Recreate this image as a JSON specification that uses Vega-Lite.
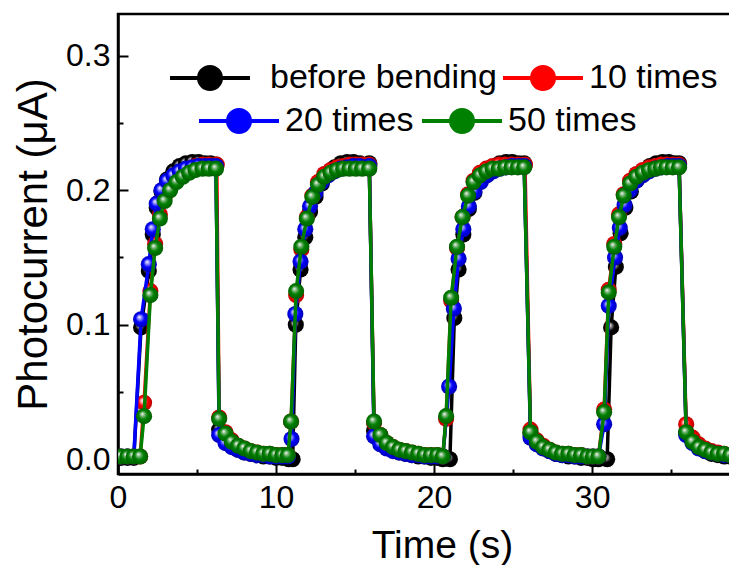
{
  "$schema": "https://vega.github.io/schema/vega-lite/v6.json",
  "width": 648,
  "height": 460,
  "padding": {"left": 12, "top": 14, "right": 0, "bottom": 0},
  "config": {
    "view": {"stroke": "black", "strokeWidth": 2.5},
    "axis": {"grid": false, "domainColor": "black", "domainWidth": 2.5, "tickColor": "black", "tickWidth": 2, "labelColor": "black", "titleColor": "black", "labelFont": "Liberation Sans", "titleFont": "Liberation Sans", "titleFontWeight": "normal", "labelFontSize": 32, "titleFontSize": 39},
    "legend": {"labelFont": "Liberation Sans", "labelColor": "black", "labelLimit": 0}
  },
  "data": {"values": [
    {"s":"before bending","t":0.2,"y":0.001},{"s":"before bending","t":0.6,"y":0.001},{"s":"before bending","t":1.0,"y":0.001},
    {"s":"before bending","t":1.46,"y":0.098},{"s":"before bending","t":1.95,"y":0.140},{"s":"before bending","t":2.2,"y":0.167},{"s":"before bending","t":2.45,"y":0.187},{"s":"before bending","t":2.75,"y":0.199},{"s":"before bending","t":3.1,"y":0.208},{"s":"before bending","t":3.5,"y":0.214},{"s":"before bending","t":3.9,"y":0.218},{"s":"before bending","t":4.3,"y":0.220},{"s":"before bending","t":4.7,"y":0.221},{"s":"before bending","t":5.1,"y":0.221},{"s":"before bending","t":5.5,"y":0.220},{"s":"before bending","t":5.85,"y":0.220},{"s":"before bending","t":6.2,"y":0.219},
    {"s":"before bending","t":6.4,"y":0.022},{"s":"before bending","t":6.8,"y":0.014},{"s":"before bending","t":7.2,"y":0.010},{"s":"before bending","t":7.6,"y":0.007},{"s":"before bending","t":8.0,"y":0.005},{"s":"before bending","t":8.4,"y":0.004},{"s":"before bending","t":8.8,"y":0.003},{"s":"before bending","t":9.2,"y":0.002},{"s":"before bending","t":9.6,"y":0.002},{"s":"before bending","t":10.0,"y":0.001},{"s":"before bending","t":10.4,"y":0.001},{"s":"before bending","t":10.8,"y":0.000},{"s":"before bending","t":11.05,"y":0.000},
    {"s":"before bending","t":11.25,"y":0.100},{"s":"before bending","t":11.55,"y":0.141},{"s":"before bending","t":11.85,"y":0.165},{"s":"before bending","t":12.15,"y":0.184},{"s":"before bending","t":12.5,"y":0.195},{"s":"before bending","t":12.9,"y":0.205},{"s":"before bending","t":13.3,"y":0.212},{"s":"before bending","t":13.7,"y":0.217},{"s":"before bending","t":14.1,"y":0.220},{"s":"before bending","t":14.5,"y":0.221},{"s":"before bending","t":14.9,"y":0.221},{"s":"before bending","t":15.3,"y":0.220},{"s":"before bending","t":15.9,"y":0.220},
    {"s":"before bending","t":16.2,"y":0.021},{"s":"before bending","t":16.6,"y":0.013},{"s":"before bending","t":17.0,"y":0.009},{"s":"before bending","t":17.4,"y":0.007},{"s":"before bending","t":17.8,"y":0.005},{"s":"before bending","t":18.2,"y":0.004},{"s":"before bending","t":18.6,"y":0.003},{"s":"before bending","t":19.0,"y":0.002},{"s":"before bending","t":19.4,"y":0.002},{"s":"before bending","t":19.8,"y":0.001},{"s":"before bending","t":20.2,"y":0.001},{"s":"before bending","t":20.55,"y":0.000},{"s":"before bending","t":21.0,"y":0.000},
    {"s":"before bending","t":21.28,"y":0.105},{"s":"before bending","t":21.55,"y":0.141},{"s":"before bending","t":21.85,"y":0.167},{"s":"before bending","t":22.2,"y":0.186},{"s":"before bending","t":22.55,"y":0.198},{"s":"before bending","t":22.95,"y":0.207},{"s":"before bending","t":23.35,"y":0.213},{"s":"before bending","t":23.75,"y":0.217},{"s":"before bending","t":24.15,"y":0.220},{"s":"before bending","t":24.55,"y":0.221},{"s":"before bending","t":24.95,"y":0.221},{"s":"before bending","t":25.35,"y":0.220},{"s":"before bending","t":25.7,"y":0.220},
    {"s":"before bending","t":26.1,"y":0.019},{"s":"before bending","t":26.5,"y":0.012},{"s":"before bending","t":26.9,"y":0.009},{"s":"before bending","t":27.3,"y":0.006},{"s":"before bending","t":27.7,"y":0.004},{"s":"before bending","t":28.1,"y":0.003},{"s":"before bending","t":28.5,"y":0.002},{"s":"before bending","t":28.9,"y":0.002},{"s":"before bending","t":29.3,"y":0.001},{"s":"before bending","t":29.7,"y":0.001},{"s":"before bending","t":30.05,"y":0.000},{"s":"before bending","t":30.4,"y":0.000},{"s":"before bending","t":30.95,"y":0.000},
    {"s":"before bending","t":31.2,"y":0.098},{"s":"before bending","t":31.5,"y":0.143},{"s":"before bending","t":31.8,"y":0.168},{"s":"before bending","t":32.1,"y":0.187},{"s":"before bending","t":32.45,"y":0.199},{"s":"before bending","t":32.85,"y":0.208},{"s":"before bending","t":33.25,"y":0.214},{"s":"before bending","t":33.65,"y":0.218},{"s":"before bending","t":34.05,"y":0.220},{"s":"before bending","t":34.45,"y":0.221},{"s":"before bending","t":34.85,"y":0.221},{"s":"before bending","t":35.2,"y":0.220},{"s":"before bending","t":35.5,"y":0.220},
    {"s":"before bending","t":35.95,"y":0.020},{"s":"before bending","t":36.35,"y":0.013},{"s":"before bending","t":36.75,"y":0.009},{"s":"before bending","t":37.15,"y":0.006},{"s":"before bending","t":37.55,"y":0.004},{"s":"before bending","t":37.95,"y":0.003},{"s":"before bending","t":38.35,"y":0.002},{"s":"before bending","t":38.75,"y":0.002},{"s":"before bending","t":39.15,"y":0.001},

    {"s":"10 times","t":0.2,"y":0.002},{"s":"10 times","t":0.6,"y":0.002},{"s":"10 times","t":1.0,"y":0.002},{"s":"10 times","t":1.4,"y":0.002},
    {"s":"10 times","t":1.65,"y":0.042},{"s":"10 times","t":2.05,"y":0.125},{"s":"10 times","t":2.35,"y":0.160},{"s":"10 times","t":2.65,"y":0.182},{"s":"10 times","t":2.95,"y":0.195},{"s":"10 times","t":3.3,"y":0.203},{"s":"10 times","t":3.7,"y":0.209},{"s":"10 times","t":4.1,"y":0.213},{"s":"10 times","t":4.5,"y":0.216},{"s":"10 times","t":4.9,"y":0.218},{"s":"10 times","t":5.35,"y":0.219},{"s":"10 times","t":5.75,"y":0.219},{"s":"10 times","t":6.25,"y":0.219},
    {"s":"10 times","t":6.4,"y":0.031},{"s":"10 times","t":6.8,"y":0.020},{"s":"10 times","t":7.2,"y":0.014},{"s":"10 times","t":7.6,"y":0.010},{"s":"10 times","t":8.0,"y":0.008},{"s":"10 times","t":8.4,"y":0.006},{"s":"10 times","t":8.8,"y":0.005},{"s":"10 times","t":9.2,"y":0.004},{"s":"10 times","t":9.6,"y":0.004},{"s":"10 times","t":10.0,"y":0.003},{"s":"10 times","t":10.4,"y":0.003},{"s":"10 times","t":10.75,"y":0.003},
    {"s":"10 times","t":10.95,"y":0.028},{"s":"10 times","t":11.27,"y":0.122},{"s":"10 times","t":11.6,"y":0.156},{"s":"10 times","t":11.95,"y":0.180},{"s":"10 times","t":12.3,"y":0.196},{"s":"10 times","t":12.65,"y":0.206},{"s":"10 times","t":13.05,"y":0.212},{"s":"10 times","t":13.45,"y":0.215},{"s":"10 times","t":13.85,"y":0.217},{"s":"10 times","t":14.25,"y":0.218},{"s":"10 times","t":14.65,"y":0.219},{"s":"10 times","t":15.05,"y":0.219},{"s":"10 times","t":15.45,"y":0.219},{"s":"10 times","t":15.9,"y":0.219},
    {"s":"10 times","t":16.2,"y":0.027},{"s":"10 times","t":16.6,"y":0.018},{"s":"10 times","t":17.0,"y":0.012},{"s":"10 times","t":17.4,"y":0.009},{"s":"10 times","t":17.8,"y":0.007},{"s":"10 times","t":18.2,"y":0.006},{"s":"10 times","t":18.6,"y":0.005},{"s":"10 times","t":19.0,"y":0.004},{"s":"10 times","t":19.4,"y":0.003},{"s":"10 times","t":19.8,"y":0.003},{"s":"10 times","t":20.2,"y":0.003},{"s":"10 times","t":20.55,"y":0.002},
    {"s":"10 times","t":20.76,"y":0.030},{"s":"10 times","t":21.08,"y":0.118},{"s":"10 times","t":21.45,"y":0.157},{"s":"10 times","t":21.8,"y":0.180},{"s":"10 times","t":22.15,"y":0.197},{"s":"10 times","t":22.5,"y":0.207},{"s":"10 times","t":22.9,"y":0.213},{"s":"10 times","t":23.3,"y":0.216},{"s":"10 times","t":23.7,"y":0.218},{"s":"10 times","t":24.1,"y":0.219},{"s":"10 times","t":24.5,"y":0.219},{"s":"10 times","t":24.9,"y":0.219},{"s":"10 times","t":25.3,"y":0.219},{"s":"10 times","t":25.75,"y":0.219},
    {"s":"10 times","t":26.1,"y":0.022},{"s":"10 times","t":26.5,"y":0.014},{"s":"10 times","t":26.9,"y":0.010},{"s":"10 times","t":27.3,"y":0.007},{"s":"10 times","t":27.7,"y":0.005},{"s":"10 times","t":28.1,"y":0.004},{"s":"10 times","t":28.5,"y":0.004},{"s":"10 times","t":28.9,"y":0.003},{"s":"10 times","t":29.3,"y":0.003},{"s":"10 times","t":29.7,"y":0.002},{"s":"10 times","t":30.05,"y":0.002},{"s":"10 times","t":30.4,"y":0.002},
    {"s":"10 times","t":30.76,"y":0.037},{"s":"10 times","t":31.05,"y":0.126},{"s":"10 times","t":31.4,"y":0.160},{"s":"10 times","t":31.7,"y":0.182},{"s":"10 times","t":32.0,"y":0.197},{"s":"10 times","t":32.4,"y":0.207},{"s":"10 times","t":32.8,"y":0.212},{"s":"10 times","t":33.2,"y":0.215},{"s":"10 times","t":33.6,"y":0.217},{"s":"10 times","t":34.0,"y":0.218},{"s":"10 times","t":34.35,"y":0.219},{"s":"10 times","t":34.7,"y":0.219},{"s":"10 times","t":35.1,"y":0.219},{"s":"10 times","t":35.5,"y":0.219},
    {"s":"10 times","t":35.95,"y":0.026},{"s":"10 times","t":36.35,"y":0.016},{"s":"10 times","t":36.75,"y":0.011},{"s":"10 times","t":37.15,"y":0.008},{"s":"10 times","t":37.55,"y":0.006},{"s":"10 times","t":37.95,"y":0.005},{"s":"10 times","t":38.35,"y":0.004},{"s":"10 times","t":38.75,"y":0.003},{"s":"10 times","t":39.15,"y":0.003},

    {"s":"20 times","t":0.2,"y":0.002},{"s":"20 times","t":0.6,"y":0.002},{"s":"20 times","t":1.0,"y":0.002},
    {"s":"20 times","t":1.46,"y":0.104},{"s":"20 times","t":1.95,"y":0.145},{"s":"20 times","t":2.2,"y":0.171},{"s":"20 times","t":2.45,"y":0.190},{"s":"20 times","t":2.75,"y":0.200},{"s":"20 times","t":3.1,"y":0.207},{"s":"20 times","t":3.5,"y":0.211},{"s":"20 times","t":3.9,"y":0.214},{"s":"20 times","t":4.3,"y":0.216},{"s":"20 times","t":4.7,"y":0.217},{"s":"20 times","t":5.1,"y":0.218},{"s":"20 times","t":5.5,"y":0.218},{"s":"20 times","t":5.85,"y":0.218},{"s":"20 times","t":6.2,"y":0.218},
    {"s":"20 times","t":6.4,"y":0.018},{"s":"20 times","t":6.8,"y":0.012},{"s":"20 times","t":7.2,"y":0.009},{"s":"20 times","t":7.6,"y":0.007},{"s":"20 times","t":8.0,"y":0.005},{"s":"20 times","t":8.4,"y":0.004},{"s":"20 times","t":8.8,"y":0.003},{"s":"20 times","t":9.2,"y":0.003},{"s":"20 times","t":9.6,"y":0.002},{"s":"20 times","t":10.0,"y":0.002},{"s":"20 times","t":10.4,"y":0.002},{"s":"20 times","t":10.75,"y":0.002},
    {"s":"20 times","t":10.98,"y":0.015},{"s":"20 times","t":11.22,"y":0.108},{"s":"20 times","t":11.55,"y":0.147},{"s":"20 times","t":11.85,"y":0.171},{"s":"20 times","t":12.15,"y":0.188},{"s":"20 times","t":12.5,"y":0.198},{"s":"20 times","t":12.9,"y":0.206},{"s":"20 times","t":13.3,"y":0.211},{"s":"20 times","t":13.7,"y":0.214},{"s":"20 times","t":14.1,"y":0.216},{"s":"20 times","t":14.5,"y":0.217},{"s":"20 times","t":14.9,"y":0.218},{"s":"20 times","t":15.3,"y":0.218},{"s":"20 times","t":15.9,"y":0.218},
    {"s":"20 times","t":16.2,"y":0.017},{"s":"20 times","t":16.6,"y":0.011},{"s":"20 times","t":17.0,"y":0.008},{"s":"20 times","t":17.4,"y":0.006},{"s":"20 times","t":17.8,"y":0.005},{"s":"20 times","t":18.2,"y":0.004},{"s":"20 times","t":18.6,"y":0.003},{"s":"20 times","t":19.0,"y":0.003},{"s":"20 times","t":19.4,"y":0.002},{"s":"20 times","t":19.8,"y":0.002},{"s":"20 times","t":20.2,"y":0.002},{"s":"20 times","t":20.55,"y":0.002},
    {"s":"20 times","t":20.95,"y":0.054},{"s":"20 times","t":21.25,"y":0.112},{"s":"20 times","t":21.55,"y":0.149},{"s":"20 times","t":21.85,"y":0.171},{"s":"20 times","t":22.2,"y":0.188},{"s":"20 times","t":22.55,"y":0.199},{"s":"20 times","t":22.95,"y":0.206},{"s":"20 times","t":23.35,"y":0.211},{"s":"20 times","t":23.75,"y":0.214},{"s":"20 times","t":24.15,"y":0.216},{"s":"20 times","t":24.55,"y":0.217},{"s":"20 times","t":24.95,"y":0.218},{"s":"20 times","t":25.35,"y":0.218},{"s":"20 times","t":25.7,"y":0.218},
    {"s":"20 times","t":26.1,"y":0.016},{"s":"20 times","t":26.5,"y":0.011},{"s":"20 times","t":26.9,"y":0.008},{"s":"20 times","t":27.3,"y":0.006},{"s":"20 times","t":27.7,"y":0.004},{"s":"20 times","t":28.1,"y":0.003},{"s":"20 times","t":28.5,"y":0.003},{"s":"20 times","t":28.9,"y":0.002},{"s":"20 times","t":29.3,"y":0.002},{"s":"20 times","t":29.7,"y":0.002},{"s":"20 times","t":30.05,"y":0.002},{"s":"20 times","t":30.4,"y":0.002},
    {"s":"20 times","t":30.76,"y":0.026},{"s":"20 times","t":31.05,"y":0.114},{"s":"20 times","t":31.45,"y":0.150},{"s":"20 times","t":31.75,"y":0.172},{"s":"20 times","t":32.05,"y":0.189},{"s":"20 times","t":32.4,"y":0.200},{"s":"20 times","t":32.8,"y":0.207},{"s":"20 times","t":33.2,"y":0.211},{"s":"20 times","t":33.6,"y":0.214},{"s":"20 times","t":34.0,"y":0.216},{"s":"20 times","t":34.4,"y":0.217},{"s":"20 times","t":34.8,"y":0.218},{"s":"20 times","t":35.15,"y":0.218},{"s":"20 times","t":35.5,"y":0.218},
    {"s":"20 times","t":35.95,"y":0.018},{"s":"20 times","t":36.35,"y":0.012},{"s":"20 times","t":36.75,"y":0.008},{"s":"20 times","t":37.15,"y":0.006},{"s":"20 times","t":37.55,"y":0.005},{"s":"20 times","t":37.95,"y":0.004},{"s":"20 times","t":38.35,"y":0.003},{"s":"20 times","t":38.75,"y":0.003},{"s":"20 times","t":39.15,"y":0.002},

    {"s":"50 times","t":0.2,"y":0.002},{"s":"50 times","t":0.6,"y":0.002},{"s":"50 times","t":1.0,"y":0.002},{"s":"50 times","t":1.4,"y":0.002},
    {"s":"50 times","t":1.65,"y":0.032},{"s":"50 times","t":2.05,"y":0.122},{"s":"50 times","t":2.35,"y":0.157},{"s":"50 times","t":2.65,"y":0.179},{"s":"50 times","t":2.95,"y":0.192},{"s":"50 times","t":3.3,"y":0.200},{"s":"50 times","t":3.7,"y":0.206},{"s":"50 times","t":4.1,"y":0.210},{"s":"50 times","t":4.5,"y":0.213},{"s":"50 times","t":4.9,"y":0.215},{"s":"50 times","t":5.35,"y":0.216},{"s":"50 times","t":5.75,"y":0.216},{"s":"50 times","t":6.2,"y":0.216},
    {"s":"50 times","t":6.4,"y":0.030},{"s":"50 times","t":6.8,"y":0.019},{"s":"50 times","t":7.2,"y":0.013},{"s":"50 times","t":7.6,"y":0.010},{"s":"50 times","t":8.0,"y":0.008},{"s":"50 times","t":8.4,"y":0.006},{"s":"50 times","t":8.8,"y":0.005},{"s":"50 times","t":9.2,"y":0.004},{"s":"50 times","t":9.6,"y":0.004},{"s":"50 times","t":10.0,"y":0.003},{"s":"50 times","t":10.4,"y":0.003},{"s":"50 times","t":10.75,"y":0.003},
    {"s":"50 times","t":10.95,"y":0.028},{"s":"50 times","t":11.27,"y":0.125},{"s":"50 times","t":11.6,"y":0.158},{"s":"50 times","t":11.95,"y":0.179},{"s":"50 times","t":12.3,"y":0.195},{"s":"50 times","t":12.65,"y":0.204},{"s":"50 times","t":13.05,"y":0.210},{"s":"50 times","t":13.45,"y":0.213},{"s":"50 times","t":13.85,"y":0.215},{"s":"50 times","t":14.25,"y":0.216},{"s":"50 times","t":14.65,"y":0.216},{"s":"50 times","t":15.05,"y":0.216},{"s":"50 times","t":15.45,"y":0.216},{"s":"50 times","t":15.9,"y":0.216},
    {"s":"50 times","t":16.2,"y":0.028},{"s":"50 times","t":16.6,"y":0.018},{"s":"50 times","t":17.0,"y":0.012},{"s":"50 times","t":17.4,"y":0.009},{"s":"50 times","t":17.8,"y":0.007},{"s":"50 times","t":18.2,"y":0.006},{"s":"50 times","t":18.6,"y":0.005},{"s":"50 times","t":19.0,"y":0.004},{"s":"50 times","t":19.4,"y":0.003},{"s":"50 times","t":19.8,"y":0.003},{"s":"50 times","t":20.2,"y":0.003},{"s":"50 times","t":20.55,"y":0.002},
    {"s":"50 times","t":20.76,"y":0.032},{"s":"50 times","t":21.08,"y":0.120},{"s":"50 times","t":21.45,"y":0.158},{"s":"50 times","t":21.8,"y":0.180},{"s":"50 times","t":22.15,"y":0.196},{"s":"50 times","t":22.5,"y":0.206},{"s":"50 times","t":22.9,"y":0.211},{"s":"50 times","t":23.3,"y":0.214},{"s":"50 times","t":23.7,"y":0.216},{"s":"50 times","t":24.1,"y":0.216},{"s":"50 times","t":24.5,"y":0.217},{"s":"50 times","t":24.9,"y":0.217},{"s":"50 times","t":25.3,"y":0.217},{"s":"50 times","t":25.7,"y":0.217},
    {"s":"50 times","t":26.1,"y":0.020},{"s":"50 times","t":26.5,"y":0.013},{"s":"50 times","t":26.9,"y":0.009},{"s":"50 times","t":27.3,"y":0.007},{"s":"50 times","t":27.7,"y":0.005},{"s":"50 times","t":28.1,"y":0.004},{"s":"50 times","t":28.5,"y":0.004},{"s":"50 times","t":28.9,"y":0.003},{"s":"50 times","t":29.3,"y":0.003},{"s":"50 times","t":29.7,"y":0.002},{"s":"50 times","t":30.05,"y":0.002},{"s":"50 times","t":30.4,"y":0.002},
    {"s":"50 times","t":30.76,"y":0.035},{"s":"50 times","t":31.05,"y":0.124},{"s":"50 times","t":31.4,"y":0.158},{"s":"50 times","t":31.7,"y":0.180},{"s":"50 times","t":32.0,"y":0.196},{"s":"50 times","t":32.4,"y":0.205},{"s":"50 times","t":32.8,"y":0.210},{"s":"50 times","t":33.2,"y":0.213},{"s":"50 times","t":33.6,"y":0.215},{"s":"50 times","t":34.0,"y":0.216},{"s":"50 times","t":34.35,"y":0.217},{"s":"50 times","t":34.7,"y":0.217},{"s":"50 times","t":35.1,"y":0.217},{"s":"50 times","t":35.5,"y":0.217},
    {"s":"50 times","t":35.95,"y":0.020},{"s":"50 times","t":36.35,"y":0.013},{"s":"50 times","t":36.75,"y":0.009},{"s":"50 times","t":37.15,"y":0.007},{"s":"50 times","t":37.55,"y":0.005},{"s":"50 times","t":37.95,"y":0.004},{"s":"50 times","t":38.35,"y":0.004},{"s":"50 times","t":38.75,"y":0.003},{"s":"50 times","t":39.15,"y":0.003}
  ]},
  "encoding": {
    "x": {"field": "t", "type": "quantitative", "scale": {"domain": [0, 41], "nice": false, "zero": false},
      "axis": {"title": "Time (s)", "values": [0, 5, 10, 15, 20, 25, 30, 35], "labelExpr": "datum.value % 10 === 0 ? format(datum.value, 'd') : ''", "tickSize": {"condition": {"test": "datum.value % 10 === 0", "value": -10}, "value": -5}, "labelPadding": 18, "titlePadding": 8, "labelOverlap": false, "labelFlush": false}},
    "y": {"field": "y", "type": "quantitative", "scale": {"domain": [-0.011, 0.331], "nice": false, "zero": false},
      "axis": {"title": "Photocurrent (μA)", "values": [0, 0.05, 0.1, 0.15, 0.2, 0.25, 0.3], "labelExpr": "round(datum.value*100) % 10 === 0 ? format(datum.value, '.1f') : ''", "tickSize": {"condition": {"test": "round(datum.value*100) % 10 === 0", "value": -10}, "value": -5}, "labelPadding": 18, "titlePadding": 10, "titleFontSize": 42, "labelOverlap": false}}
  },
  "layer": [
    {"transform": [{"filter": "datum.s === 'before bending'"}], "mark": {"type": "line", "strokeWidth": 3.5, "clip": true},
      "encoding": {"color": {"field": "s", "type": "nominal", "scale": {"domain": ["before bending", "10 times"], "range": ["#000000", "#ff0000"]},
        "legend": {"title": null, "orient": "none", "legendX": 50, "legendY": 22, "direction": "horizontal", "columns": 2, "symbolType": "M-1,0L1,0M0.275,0A0.275,0.275,0,1,1,-0.275,0A0.275,0.275,0,1,1,0.275,0Z", "symbolSize": 6400, "symbolStrokeWidth": 4, "labelFontSize": 34, "labelOffset": 4, "columnPadding": -2, "labelLimit": 0, "encode": {"symbols": {"update": {"fill": {"scale": "color", "field": "value"}, "stroke": {"scale": "color", "field": "value"}, "opacity": {"value": 1}}}, "labels": {"update": {"dx": {"signal": "datum.value === 'before bending' ? 14 : 0"}}}}}}}},
    {"transform": [{"filter": "datum.s === 'before bending'"}], "mark": {"type": "circle", "size": 260, "opacity": 1, "clip": true, "fill": {"gradient": "radial", "x1": 0.38, "y1": 0.35, "r1": 0, "x2": 0.5, "y2": 0.5, "r2": 0.55, "stops": [{"offset": 0, "color": "#ffffff"}, {"offset": 0.25, "color": "#8a8a8a"}, {"offset": 0.5, "color": "#000000"}, {"offset": 1, "color": "#000000"}]}}},
    {"transform": [{"filter": "datum.s === '10 times'"}], "mark": {"type": "line", "strokeWidth": 3.5, "clip": true},
      "encoding": {"color": {"field": "s", "type": "nominal", "scale": {"domain": ["before bending", "10 times"], "range": ["#000000", "#ff0000"]},
        "legend": {"title": null, "orient": "none", "legendX": 50, "legendY": 22, "direction": "horizontal", "columns": 2, "symbolType": "M-1,0L1,0M0.275,0A0.275,0.275,0,1,1,-0.275,0A0.275,0.275,0,1,1,0.275,0Z", "symbolSize": 6400, "symbolStrokeWidth": 4, "labelFontSize": 34, "labelOffset": 4, "columnPadding": -2, "labelLimit": 0, "encode": {"symbols": {"update": {"fill": {"scale": "color", "field": "value"}, "stroke": {"scale": "color", "field": "value"}, "opacity": {"value": 1}}}, "labels": {"update": {"dx": {"signal": "datum.value === 'before bending' ? 14 : 0"}}}}}}}},
    {"transform": [{"filter": "datum.s === '10 times'"}], "mark": {"type": "circle", "size": 260, "opacity": 1, "clip": true, "fill": {"gradient": "radial", "x1": 0.38, "y1": 0.35, "r1": 0, "x2": 0.5, "y2": 0.5, "r2": 0.55, "stops": [{"offset": 0, "color": "#ffffff"}, {"offset": 0.25, "color": "#ff9090"}, {"offset": 0.5, "color": "#ff0000"}, {"offset": 1, "color": "#b00000"}]}}},
    {"transform": [{"filter": "datum.s === '20 times'"}], "mark": {"type": "line", "strokeWidth": 3.5, "clip": true},
      "encoding": {"stroke": {"field": "s", "type": "nominal", "scale": {"domain": ["20 times", "50 times"], "range": ["#0000ff", "#008000"]},
        "legend": {"title": null, "orient": "none", "legendX": 79, "legendY": 65, "direction": "horizontal", "columns": 2, "symbolType": "M-1,0L1,0M0.275,0A0.275,0.275,0,1,1,-0.275,0A0.275,0.275,0,1,1,0.275,0Z", "symbolSize": 6400, "symbolStrokeWidth": 4, "labelFontSize": 34, "labelOffset": 4, "columnPadding": 0, "labelLimit": 0, "encode": {"symbols": {"update": {"fill": {"scale": "stroke", "field": "value"}, "stroke": {"scale": "stroke", "field": "value"}, "opacity": {"value": 1}}}}}}}},
    {"transform": [{"filter": "datum.s === '20 times'"}], "mark": {"type": "circle", "size": 260, "opacity": 1, "clip": true, "fill": {"gradient": "radial", "x1": 0.38, "y1": 0.35, "r1": 0, "x2": 0.5, "y2": 0.5, "r2": 0.55, "stops": [{"offset": 0, "color": "#ffffff"}, {"offset": 0.25, "color": "#8080ff"}, {"offset": 0.5, "color": "#0000ff"}, {"offset": 1, "color": "#0000a8"}]}}},
    {"transform": [{"filter": "datum.s === '50 times'"}], "mark": {"type": "line", "strokeWidth": 3.5, "clip": true},
      "encoding": {"stroke": {"field": "s", "type": "nominal", "scale": {"domain": ["20 times", "50 times"], "range": ["#0000ff", "#008000"]},
        "legend": {"title": null, "orient": "none", "legendX": 79, "legendY": 65, "direction": "horizontal", "columns": 2, "symbolType": "M-1,0L1,0M0.275,0A0.275,0.275,0,1,1,-0.275,0A0.275,0.275,0,1,1,0.275,0Z", "symbolSize": 6400, "symbolStrokeWidth": 4, "labelFontSize": 34, "labelOffset": 4, "columnPadding": 0, "labelLimit": 0, "encode": {"symbols": {"update": {"fill": {"scale": "stroke", "field": "value"}, "stroke": {"scale": "stroke", "field": "value"}, "opacity": {"value": 1}}}}}}}},
    {"transform": [{"filter": "datum.s === '50 times'"}], "mark": {"type": "circle", "size": 260, "opacity": 1, "clip": true, "fill": {"gradient": "radial", "x1": 0.38, "y1": 0.35, "r1": 0, "x2": 0.5, "y2": 0.5, "r2": 0.55, "stops": [{"offset": 0, "color": "#ffffff"}, {"offset": 0.25, "color": "#70b070"}, {"offset": 0.5, "color": "#008000"}, {"offset": 1, "color": "#005a00"}]}}}
  ]
}
